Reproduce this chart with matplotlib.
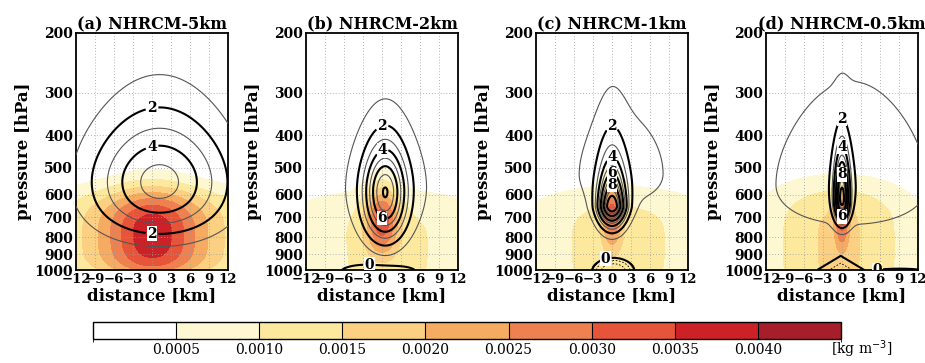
import matplotlib
import numpy as np

matplotlib.use("Agg")
import matplotlib.pyplot as plt
from matplotlib.colors import ListedColormap, BoundaryNorm
from matplotlib.colorbar import ColorbarBase

plt.rcParams["font.family"] = ["DejaVu Serif"]

titles = ["(a) NHRCM-5km", "(b) NHRCM-2km", "(c) NHRCM-1km", "(d) NHRCM-0.5km"]

# shaded hydrometeor blobs: amp [kg m-3], x0 [km], p0 [hPa], sx [km], sp_up, sp_dn [hPa], exponent
q_core = [
    (0.0015, 0.0, 780, 4.5, 150, 200, 2.0),
    (0.0023, 0.0, 710, 1.8, 110, 130, 2.0),
    (0.0021, 0.0, 660, 1.1, 90, 130, 2.0),
    (0.0017, 0.0, 690, 0.8, 90, 120, 2.0),
]
q_broad = [
    (0.0024, 0.3, 800, 11.0, 200, 230, 4.0),
    (0.0011, 1.0, 850, 14.0, 240, 400, 4.0),
    (0.0012, 1.0, 830, 12.0, 230, 400, 4.0),
    (0.0016, -0.5, 830, 9.0, 250, 400, 4.0),
]

# contour-line field (updraft): amp, x0, p0, sx, sp_up, sp_dn, exponent
w_core = [
    (5.4, 1.2, 550, 7.6, 155, 165, 2.0),
    (7.0, 0.5, 590, 2.3, 115, 150, 2.0),
    (10.5, 0.0, 650, 1.5, 95, 56, 1.5),
    (9.0, 0.0, 620, 0.8, 115, 65, 2.0),
]
w_broad = [
    (0.0, 0.0, 550, 1.0, 1, 1, 2.0),
    (1.1, 1.0, 560, 9.0, 230, 200, 2.0),
    (1.4, 1.5, 520, 8.0, 210, 130, 2.0),
    (1.8, 1.5, 560, 11.0, 260, 160, 2.0),
]
# near-surface downdraft domes: amp, x0, p0, rx, rp, shape exponent
w_neg = [
    [],
    [(-0.8, -0.5, 1010, 6.2, 60, 2)],
    [(-3.0, 0.2, 1010, 3.3, 90, 2)],
    [(-2.0, -0.2, 1000, 3.8, 100, 1), (-0.4, 9.0, 1012, 4.5, 22, 2)],
]

q_levels = [0.0005, 0.0010, 0.0015, 0.0020, 0.0025, 0.0030, 0.0035, 0.0040]
q_colors = ["#ffffff", "#fef8d2", "#fde99e", "#fbd083", "#f6ab62",
            "#ef8150", "#e6553a", "#cd2128", "#a71e2b"]
w_levels = [-3, -2, -1, 0, 1, 2, 3, 4, 5, 6, 7, 8, 9, 10]

x_ticks = [-12, -9, -6, -3, 0, 3, 6, 9, 12]
p_ticks = [200, 300, 400, 500, 600, 700, 800, 900, 1000]

# which contours get a boxed label: (level, top/bot, column x)
label_spec = [
    [(2, "top", 0), (4, "top", 0), (2, "bot", 0)],
    [(2, "top", 0), (4, "top", 0), (6, "bot", 0), (0, "top", -2)],
    [(2, "top", 0), (4, "top", 0), (6, "top", 0), (8, "top", 0), (0, "top", -1)],
    [(2, "top", 0), (4, "top", 0), (8, "top", 0), (6, "bot", 0), (0, "top", 5.5)],
]


def blob(X, P, amp, x0, p0, sx, s_up, s_dn, k=2.0):
    dp = P - p0
    s = np.where(dp < 0, s_up, s_dn)
    return amp * np.exp(-0.5 * ((X - x0) / sx) ** 2 - 0.5 * np.abs(dp / s) ** k)


def dome(X, P, amp, x0, p0, rx, rp, m):
    r = 1 - np.abs((X - x0) / rx) ** m - np.abs((P - p0) / rp) ** m
    return amp * np.clip(r, 0, None)


def label_points(x, p, f, spec):
    pts = []
    for lev, side, xc in spec:
        j = int(np.argmin(np.abs(x - xc)))
        col = f[:, j] - lev
        idx = np.where(np.sign(col[:-1]) != np.sign(col[1:]))[0]
        if len(idx) == 0:
            continue
        i = idx[0] if side == "top" else idx[-1]
        pts.append((x[j], 0.5 * (p[i] + p[i + 1])))
    return pts


x = np.linspace(-12, 12, 241)
p = np.linspace(200, 1000, 401)
X, P = np.meshgrid(x, p)

fig = plt.figure(figsize=(9.25, 3.63), dpi=100)
lefts = [76, 306, 536, 766]
bold = dict(fontweight="bold")

for k in range(4):
    ax = fig.add_axes([lefts[k] / 925, 1 - 270 / 363, 152 / 925, 237 / 363])
    q = blob(X, P, *q_core[k]) + blob(X, P, *q_broad[k])
    w = blob(X, P, *w_core[k]) + blob(X, P, *w_broad[k])
    for d in w_neg[k]:
        w = w + dome(X, P, *d)

    ax.contourf(x, p, q, levels=[-1] + q_levels + [1], colors=q_colors)

    for g in x_ticks[1:-1]:
        ax.axvline(g, color="#9a9a9a", lw=0.6, ls=(0, (1, 2.5)), zorder=1)
    for g in p_ticks[1:-1]:
        ax.axhline(g, color="#9a9a9a", lw=0.6, ls=(0, (1, 2.5)), zorder=1)

    odd = [v for v in w_levels if v > 0 and v % 2 == 1]
    even = [v for v in w_levels if v >= 0 and v % 2 == 0]
    neg = [v for v in w_levels if v < 0]
    ax.contour(x, p, w, levels=odd, colors="#555555", linewidths=0.8, zorder=3)
    if w.min() < neg[-1]:
        ax.contour(x, p, w, levels=neg, colors="black", linewidths=0.6,
                   linestyles=[(0, (2, 2))], zorder=3)
    cs = ax.contour(x, p, w, levels=even, colors="black", linewidths=1.5, zorder=4)
    pts = label_points(x, p, w, label_spec[k])
    texts = ax.clabel(cs, manual=pts, inline=True, fmt="%d",
                      fontsize=10, inline_spacing=2)
    for t in texts:
        t.set_rotation(0)
        t.set_fontweight("bold")
        t.set_bbox(dict(facecolor="white", edgecolor="none", pad=0.3))

    ax.set_yscale("log")
    ax.set_ylim(1000, 200)
    ax.set_xlim(-12, 12)
    ax.set_yticks(p_ticks)
    ax.set_yticklabels([str(v) for v in p_ticks], fontsize=10, **bold)
    ax.yaxis.set_minor_locator(matplotlib.ticker.NullLocator())
    ax.set_xticks(x_ticks)
    ax.set_xticklabels([str(v).replace("-", "\u2212") for v in x_ticks], fontsize=9.5, **bold)
    ax.tick_params(length=0, pad=2)
    for s in ax.spines.values():
        s.set_linewidth(1.3)
    ax.set_title(titles[k], fontsize=11.5, pad=3, **bold)
    ax.set_xlabel("distance [km]", fontsize=12, labelpad=1, **bold)
    ax.set_ylabel("pressure [hPa]", fontsize=12, labelpad=2, **bold)

cax = fig.add_axes([93 / 925, 1 - 339 / 363, 748 / 925, 17 / 363])
bounds = [0.0] + q_levels + [0.0045]
cb = ColorbarBase(cax, cmap=ListedColormap(q_colors), norm=BoundaryNorm(bounds, 9),
                  boundaries=bounds, spacing="uniform", ticks=q_levels,
                  orientation="horizontal", drawedges=True)
cb.set_ticklabels(["%.4f" % v for v in q_levels])
cb.ax.tick_params(length=0, labelsize=10, pad=3)
cb.outline.set_linewidth(1.0)
cb.dividers.set_linewidth(0.8)
fig.text(862 / 925, 1 - 349 / 363, "[kg m$^{-3}$]", fontsize=10, ha="center", va="center")

fig.savefig("out.png", dpi=100)
